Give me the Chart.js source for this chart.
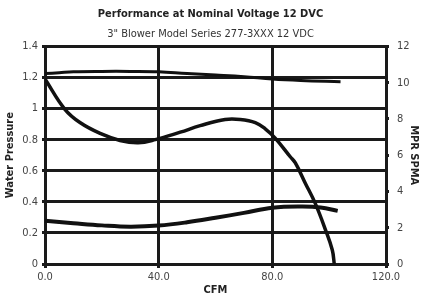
<!DOCTYPE html>
<html>
<head>
<meta charset="utf-8">
<script src="https://cdn.jsdelivr.net/npm/chart.js@4/dist/chart.umd.min.js"></script>
<style>
  html, body { margin: 0; padding: 0; background: #fff; }
  canvas { display: block; }
</style>
</head>
<body>
<canvas id="perfChart" width="421" height="298"></canvas>
<script>
// pressure curve (left axis)
const pressureCfm = [0, 7, 12.3, 19.4, 26.4, 32.8, 38.8, 47.6, 54.6, 63.4, 68.7, 74, 77.5, 81, 86.3, 88.1, 91.6, 95.1, 98.7, 101.1, 101.8];
const pressure = [1.19, 0.995, 0.91, 0.84, 0.795, 0.78, 0.80, 0.848, 0.89, 0.93, 0.93, 0.91, 0.87, 0.81, 0.69, 0.65, 0.52, 0.39, 0.22, 0.09, 0];

// upper flat line (right axis)
const upperCfm = [0, 5, 10, 20, 30, 40, 50, 60, 70, 80, 90, 104];
const upperValues = [10.5, 10.55, 10.6, 10.62, 10.62, 10.6, 10.5, 10.42, 10.33, 10.2, 10.12, 10.05];

// lower line (right axis)
const lowerCfm = [0, 10, 20, 30, 40, 50, 60, 70, 80, 90, 97, 103];
const lowerValues = [2.38, 2.25, 2.13, 2.06, 2.12, 2.3, 2.55, 2.82, 3.1, 3.17, 3.12, 2.93];

const xTicks = [0, 40, 80, 120];
const leftTicks = [0, 0.2, 0.4, 0.6, 0.8, 1, 1.2, 1.4];
const rightTicks = [0, 2, 4, 6, 8, 10, 12];

const toPoints = (xs, ys) => xs.map((x, i) => ({ x: x, y: ys[i] }));

// condensed face, stretch passed through the font shorthand
Chart.defaults.font.family = "'DejaVu Sans Condensed', 'Liberation Sans Narrow', 'DejaVu Sans', sans-serif";
Chart.defaults.font.style = 'normal condensed';
Chart.defaults.color = '#444';

const ctx = document.getElementById('perfChart');

new Chart(ctx, {
    type: 'line',
    data: {
        datasets: [{
            data: toPoints(pressureCfm, pressure),
            yAxisID: 'y',
            borderColor: '#111',
            borderWidth: 3.5,
            pointRadius: 0,
            tension: 0.4
        }, {
            data: toPoints(upperCfm, upperValues),
            yAxisID: 'y2',
            borderColor: '#111',
            borderWidth: 3,
            pointRadius: 0,
            tension: 0.4
        }, {
            data: toPoints(lowerCfm, lowerValues),
            yAxisID: 'y2',
            borderColor: '#111',
            borderWidth: 4,
            pointRadius: 0,
            tension: 0.4
        }]
    },
    options: {
        responsive: false,
        animation: false,
        layout: { padding: 0 },
        plugins: {
            legend: { display: false },
            tooltip: { enabled: false },
            title: {
                display: true,
                text: 'Performance at Nominal Voltage 12 DVC',
                color: '#222',
                font: { size: 11, weight: 'bold' },
                padding: { top: 8, bottom: 6 }
            },
            subtitle: {
                display: true,
                text: '3" Blower Model Series 277-3XXX 12 VDC',
                color: '#333',
                font: { size: 11 },
                padding: { top: 0, bottom: 6 }
            }
        },
        scales: {
            x: {
                type: 'linear',
                min: 0,
                max: 120,
                afterBuildTicks: axis => { axis.ticks = xTicks.map(v => ({ value: v })); },
                afterFit: axis => { axis.height = 34; },
                ticks: {
                    callback: v => v.toFixed(1),
                    font: { size: 11 },
                    padding: 3
                },
                grid: { color: '#1a1a1a', lineWidth: 3, tickLength: 4 },
                border: { color: '#1a1a1a', width: 3 },
                title: {
                    display: true,
                    text: 'CFM',
                    color: '#222',
                    font: { size: 11, weight: 'bold' },
                    padding: { top: 0, bottom: 1 }
                }
            },
            y: {
                position: 'left',
                min: 0,
                max: 1.4,
                afterBuildTicks: axis => { axis.ticks = leftTicks.map(v => ({ value: v })); },
                afterFit: axis => { axis.width = 45; },
                ticks: {
                    callback: v => String(Math.round(v * 10) / 10),
                    font: { size: 11 },
                    padding: 4
                },
                grid: { color: '#1a1a1a', lineWidth: 3, tickLength: 3 },
                border: { color: '#1a1a1a', width: 3 },
                title: {
                    display: true,
                    text: 'Water Pressure',
                    color: '#222',
                    font: { size: 11, weight: 'bold' },
                    padding: { top: 4, bottom: 0 }
                }
            },
            y2: {
                position: 'right',
                min: 0,
                max: 12,
                afterBuildTicks: axis => { axis.ticks = rightTicks.map(v => ({ value: v })); },
                afterFit: axis => { axis.width = 35; },
                ticks: {
                    font: { size: 11 },
                    padding: 8
                },
                grid: { drawOnChartArea: false, color: '#1a1a1a', lineWidth: 3, tickLength: 3 },
                border: { color: '#1a1a1a', width: 3 },
                title: {
                    display: true,
                    text: 'MPR SPMA',
                    color: '#222',
                    font: { size: 11, weight: 'bold' },
                    padding: { top: 1, bottom: 0 }
                }
            }
        }
    }
});
</script>
</body>
</html>
